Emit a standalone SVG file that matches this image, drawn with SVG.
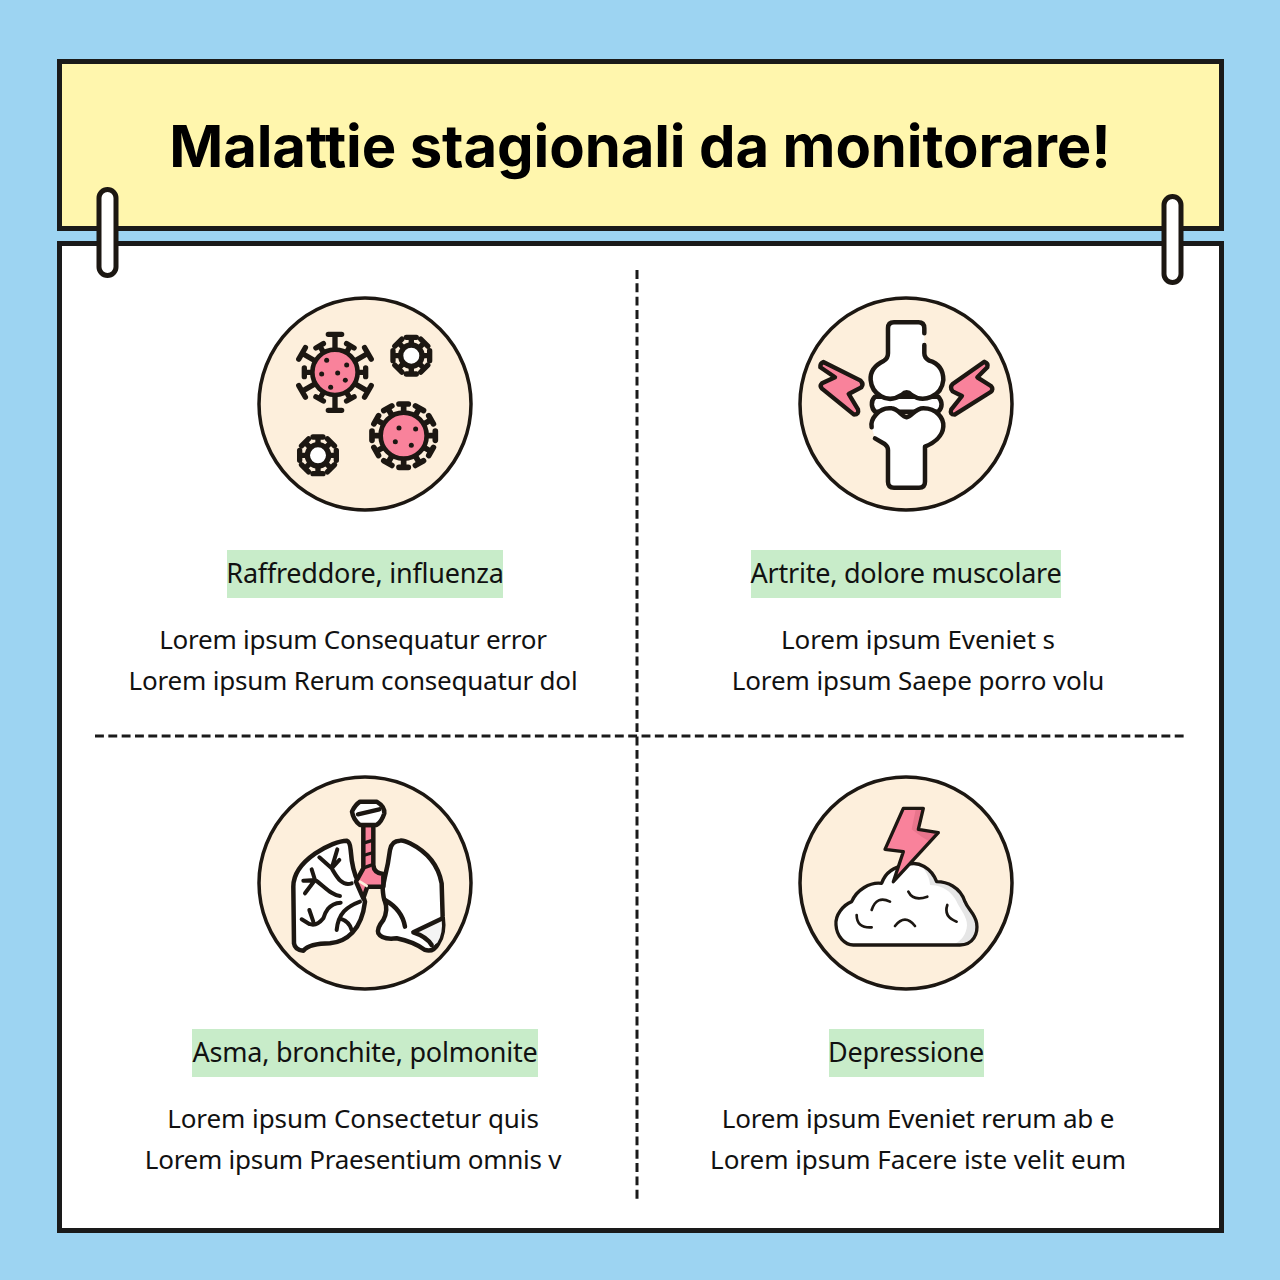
<svg xmlns="http://www.w3.org/2000/svg" xmlns:xlink="http://www.w3.org/1999/xlink" width="1280" height="1280" viewBox="0 0 1280 1280">
<style>
.k{stroke:#1c1712;fill:none;stroke-linecap:round;stroke-linejoin:round}
.panel{stroke:#1a1a1a;stroke-width:5}
.clip{fill:#fff;stroke:#1c1712;stroke-width:5}
.disc{fill:#fdefdc;stroke:#1c1712;stroke-width:3.500}
.tag{fill:#c8ecc9}
.h{font-family:"Noto Sans",sans-serif;font-size:27px;letter-spacing:-.23px;fill:#111;text-anchor:middle}
.b{font-family:"Noto Sans",sans-serif;font-size:26px;fill:#111;text-anchor:middle}
.t{font-family:Inter,sans-serif;font-weight:700;font-size:58px;letter-spacing:-.12px;fill:#000;text-anchor:middle}
.d{stroke:#1a1a1a;stroke-width:3;stroke-dasharray:8.900 4.430;fill:none}
.s{stroke-width:13.500}.s2{stroke-width:10}
</style>
<defs>
<path id="long" class="k" stroke-width="16" d="M0 -62V-113M-20 -114H20"/>
<path id="short" class="k" stroke-width="16" d="M0 -62V-90M-13 -92H13"/>
<path id="s3" class="k" stroke-width="17" d="M0 -62V-93M-14 -95H14"/>
<path id="s4" class="k" stroke-width="16" d="M0 -30V-54M-15 -55H15"/>
<g id="small"><use xlink:href="#s4"/><use xlink:href="#s4" transform="rotate(45)"/><use xlink:href="#s4" transform="rotate(90)"/><use xlink:href="#s4" transform="rotate(135)"/><use xlink:href="#s4" transform="rotate(180)"/><use xlink:href="#s4" transform="rotate(225)"/><use xlink:href="#s4" transform="rotate(270)"/><use xlink:href="#s4" transform="rotate(315)"/><circle r="32" fill="#fff" stroke="#1c1712" stroke-width="16"/></g>
</defs>
<rect width="1280" height="1280" fill="#9dd4f2"/>
<g id="header"><rect class="panel" x="59.500" y="61.500" width="1162" height="167" fill="#fff6ad"/>
<text class="t" x="640" y="167">Malattie stagionali da monitorare!</text></g>
<g id="panel"><rect class="panel" x="59.500" y="243.500" width="1162" height="987" fill="#fff"/></g>
<g id="clips"><rect class="clip" x="99" y="189.500" width="17" height="86" rx="8.500"/><rect class="clip" x="1164" y="196.500" width="17" height="86" rx="8.500"/></g>
<g id="connectors"><path class="d" d="M637 270V1200"/><path class="d" d="M95 736H1185"/></g>

<g id="node-flu">
<circle class="disc" cx="365" cy="404" r="106"/>
<g transform="translate(250 290) scale(.3333)">
<g transform="translate(255 247)">
<use xlink:href="#long"/><use xlink:href="#short" transform="rotate(30)"/><use xlink:href="#long" transform="rotate(60)"/><use xlink:href="#short" transform="rotate(90)"/><use xlink:href="#long" transform="rotate(120)"/><use xlink:href="#short" transform="rotate(150)"/><use xlink:href="#long" transform="rotate(180)"/><use xlink:href="#short" transform="rotate(210)"/><use xlink:href="#long" transform="rotate(240)"/><use xlink:href="#short" transform="rotate(270)"/><use xlink:href="#long" transform="rotate(300)"/><use xlink:href="#short" transform="rotate(330)"/>
<circle r="68" class="k" style="fill:#f9829b" stroke-width="14"/></g>
<g fill="#1c1712"><circle cx="230" cy="211" r="7.500"/><circle cx="290" cy="225" r="7.500"/><circle cx="215" cy="252" r="7.500"/><circle cx="263" cy="249" r="7.500"/><circle cx="286" cy="271" r="7.500"/><circle cx="242" cy="292" r="7.500"/></g>
<g transform="translate(461 437)"><use xlink:href="#s3"/><use xlink:href="#s3" transform="rotate(30)"/><use xlink:href="#s3" transform="rotate(60)"/><use xlink:href="#s3" transform="rotate(90)"/><use xlink:href="#s3" transform="rotate(120)"/><use xlink:href="#s3" transform="rotate(150)"/><use xlink:href="#s3" transform="rotate(180)"/><use xlink:href="#s3" transform="rotate(210)"/><use xlink:href="#s3" transform="rotate(240)"/><use xlink:href="#s3" transform="rotate(270)"/><use xlink:href="#s3" transform="rotate(300)"/><use xlink:href="#s3" transform="rotate(330)"/></g>
<circle cx="461" cy="437" r="69" class="k" style="fill:#f9829b" stroke-width="14"/>
<g fill="#1c1712"><circle cx="447" cy="414" r="7.500"/><circle cx="497" cy="417" r="7.500"/><circle cx="436" cy="455" r="7.500"/><circle cx="484" cy="466" r="7.500"/></g>
<use xlink:href="#small" x="484" y="197"/>
<use xlink:href="#small" x="204" y="496"/>
</g></g>

<g id="node-joint">
<circle class="disc" cx="906" cy="404" r="106"/>
<g transform="translate(790 290) scale(.3333)">
<path class="k s" style="fill:#fff" d="M255 320C240 335 245 355 255 365H445C458 352 458 335 445 320Z"/>
<path d="M294 120Q294 97 312 97H385Q403 97 403 115V190Q403 204 418 212C445 220 460 240 460 270C455 320 400 340 365 315Q350 300 335 315C290 345 245 310 242 270C240 245 255 225 282 212Q294 205 294 190Z" fill="#fff"/>
<path class="k s" d="M403 130V115Q403 97 385 97H312Q294 97 294 115V190Q294 205 282 212C255 225 240 245 242 270C245 310 290 345 335 315Q350 300 365 315C400 340 455 320 460 270C460 240 445 220 418 212Q403 204 403 190V165"/>
<path d="M245 412C240 390 265 350 305 355C325 357 335 380 350 382C365 380 375 355 400 355C440 355 462 385 460 410C458 440 430 460 405 470V575Q405 593 387 593H312Q294 593 294 575V480Q294 470 284 462L255 445Z" fill="#fff"/>
<path class="k s" d="M245 412C240 390 265 350 305 355C325 357 335 380 350 382C365 380 375 355 400 355C440 355 462 385 460 410C458 440 430 460 405 470V575Q405 593 387 593H312Q294 593 294 575V480Q294 470 284 462L255 445"/>
<path class="k" stroke-width="13" style="fill:#f9829b" d="M100 216Q90 220 91 232L135 262L96 280Q88 288 96 296L192 374Q208 374 204 358L176 312L214 292Q222 282 212 272Z"/>
<path class="k" stroke-width="13" style="fill:#f9829b" d="M583 215Q596 220 592 232L562 262L603 288Q612 298 602 306L494 374Q478 374 484 358L516 318L488 304Q478 292 488 282Z"/>
</g></g>

<g id="node-lungs">
<circle class="disc" cx="365" cy="883" r="106"/>
<g transform="translate(250 770) scale(.3333)">
<path class="k s" style="fill:#fff" d="M290 212C250 212 130 270 130 350L132 520Q135 540 160 542C175 525 210 520 240 520C290 515 335 480 345 395L325 335C310 310 305 280 302 240Q300 215 290 212Z"/>
<path class="k s" style="fill:#fff" d="M450 212Q425 212 420 240Q415 280 405 320L398 355Q400 385 405 395Q415 420 400 450Q380 475 385 490Q395 510 440 505Q490 515 525 540Q550 548 565 520Q585 490 578 440L575 340Q560 260 480 220Q460 210 450 212Z"/>
<path d="M490 487L575 447Q580 490 562 518L545 530Q530 500 490 487Z" fill="#f4f4f4"/>
<path class="k s" style="fill:#f9829b" d="M340 165V295L318 335L340 385L352 350H400V312Q372 310 370 285V165Z"/>
<path class="k s2" d="M345 218L365 212M345 255L365 249M345 292L362 286"/>
<path class="k" stroke-width="8" style="stroke:#fdefdc" d="M330 335L350 348"/>
<path class="k s" d="M405 390C440 410 460 440 465 470M578 445L490 487Q530 500 545 525"/>
<path class="k" stroke-width="12" d="M330 395C290 410 265 430 260 480M270 445C285 450 300 460 305 480M305 340C275 350 260 320 245 295M245 295L262 238M245 295L208 262M245 295L268 270M270 378C240 375 220 345 195 330M195 330L160 332M195 330L185 298M195 330L165 370M272 398C235 400 225 430 220 445Q200 470 178 462M178 462L155 448M190 455L178 420"/>
<path class="k s" style="fill:#fff" d="M330 95H380Q405 110 403 130Q395 155 380 165H330Q310 150 306 125Q315 105 330 95Z"/>
<path class="k s" d="M324 133L388 118"/>
</g></g>

<g id="node-depression">
<circle class="disc" cx="906" cy="883" r="106"/>
<g transform="translate(790 770) scale(.3333)">
<path d="M190 525H510C550 525 565 490 560 460C555 430 535 420 525 395C510 350 470 335 440 335C425 295 385 270 350 285C310 290 285 310 275 340C240 335 200 360 185 395C160 405 135 435 138 465C140 500 165 525 190 525Z" fill="#fff"/>
<path d="M510 525C550 525 565 490 560 460C555 430 535 420 525 395C510 350 470 335 440 335C425 295 405 285 385 280C410 300 420 330 420 345C470 345 495 380 505 405C520 430 535 450 530 475C525 500 510 515 490 525Z" fill="#e6e6e6"/>
<path class="k" stroke-width="10" d="M190 525H510C550 525 565 490 560 460C555 430 535 420 525 395C510 350 470 335 440 335C425 295 385 270 350 285C310 290 285 310 275 340C240 335 200 360 185 395C160 405 135 435 138 465C140 500 165 525 190 525Z"/>
<path class="k" stroke-width="8" d="M355 365Q370 395 412 380M300 395Q260 375 245 420M200 435Q200 475 245 472M472 405Q460 440 500 455M315 468Q345 430 375 468"/>
<path fill="#f9829b" d="M340 115H400L385 178L445 188L310 335L340 245L285 238Z"/>
<path d="M378 115H400L385 178L445 188L420 215L395 200L365 178Z" fill="#e8758c"/>
<path class="k" stroke-width="10" d="M340 115H400L385 178L445 188L310 335L340 245L285 238Z"/>
</g></g>

<g id="label-flu"><rect class="tag" x="227" y="550" width="276" height="48"/><text class="h" x="365" y="583">Raffreddore, influenza</text>
<text class="b" x="353" y="649" style="letter-spacing:-.24px">Lorem ipsum Consequatur error</text><text class="b" x="353" y="690" style="letter-spacing:-.21px">Lorem ipsum Rerum consequatur dol</text></g>
<g id="label-joint"><rect class="tag" x="751" y="550" width="310" height="48"/><text class="h" x="906" y="583">Artrite, dolore muscolare</text>
<text class="b" x="918" y="649" style="letter-spacing:-.1px">Lorem ipsum Eveniet s</text><text class="b" x="918" y="690" style="letter-spacing:-.1px">Lorem ipsum Saepe porro volu</text></g>
<g id="label-lungs"><rect class="tag" x="192" y="1029" width="346" height="48"/><text class="h" x="365" y="1062">Asma, bronchite, polmonite</text>
<text class="b" x="353" y="1128" style="letter-spacing:-.07px">Lorem ipsum Consectetur quis</text><text class="b" x="353" y="1169" style="letter-spacing:-.26px">Lorem ipsum Praesentium omnis v</text></g>
<g id="label-depression"><rect class="tag" x="829" y="1029" width="155" height="48"/><text class="h" x="906" y="1062">Depressione</text>
<text class="b" x="918" y="1128" style="letter-spacing:-.2px">Lorem ipsum Eveniet rerum ab e</text><text class="b" x="918" y="1169" style="letter-spacing:-.03px">Lorem ipsum Facere iste velit eum</text></g>
</svg>
